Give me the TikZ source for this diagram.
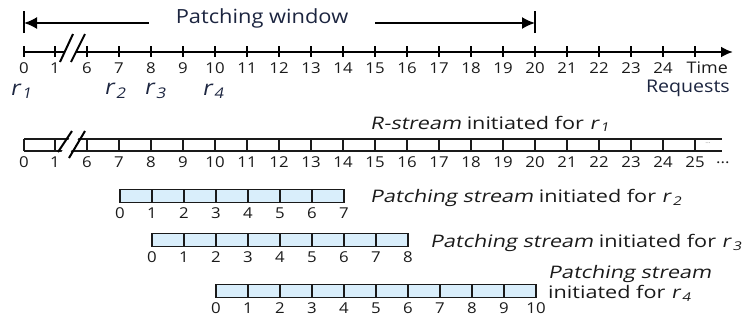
\documentclass[tikz,border=0pt]{standalone}
\usepackage{fontspec}
\setmainfont[FakeStretch=1.12]{Open Sans}
\newfontfamily\slntfont[FakeStretch=1.12,FakeSlant=0.2]{Open Sans}
\newfontfamily\capfont[FakeStretch=1.25]{Open Sans}
\newfontfamily\capslntfont[FakeStretch=1.25,FakeSlant=0.2]{Open Sans}
\newcommand{\capsl}[1]{{\capslntfont #1}}
\newcommand{\req}[1]{r\kern2pt\textsubscript{#1}}
\usetikzlibrary{arrows.meta,positioning,calc}
\definecolor{streamblue}{HTML}{D9EEFB}
\definecolor{textdark}{HTML}{1A1A1A}
\definecolor{labelnavy}{HTML}{1C2540}
\definecolor{linedark}{HTML}{1A1A1A}
\tikzset{
  >=Latex,
  axisline/.style={line width=2.4pt, draw=black},
  axis/.style={axisline, -{Latex[length=12pt,width=11pt]}},
  tickmark/.style={line width=2.2pt, draw=black},
  num/.style={font=\fontsize{15}{17}\selectfont, text=textdark, inner sep=0pt},
  reqlabel/.style={font=\fontsize{21}{23}\selectfont\slntfont, text=labelnavy, inner sep=0pt},
  caption/.style={font=\capfont\fontsize{17.3}{20}\selectfont, text=textdark, inner sep=0pt, align=left},
  cell/.style={rectangle, draw=linedark, line width=1.8pt, minimum width=32pt,
    minimum height=13pt, inner sep=0pt, outer sep=0pt},
  rline/.style={line width=1.8pt, draw=linedark},
  winarrow/.style={line width=1.8pt, -{Latex[length=13pt,width=12pt]}},
  winbar/.style={line width=2.2pt},
  breakmark/.style={line width=2pt, draw=black}
}
% one patching stream: name, left x, centre y, number of cells
\newcommand{\patchbar}[4]{
  \foreach \i in {1,...,#4}{
    \node[cell, fill=streamblue, anchor=west] (#1c\i) at ({#2+32*(\i-1)},#3) {};
  }
  \foreach \i in {0,...,#4}{
    \node[num] (#1n\i) at ({#2+32*\i},{#3+17}) {\i};
  }
}

\begin{document}
\begin{tikzpicture}[x=1pt,y=-1pt]
\useasboundingbox (0,0) rectangle (746,330);

% patching window
\node[font=\fontsize{19.5}{21}\selectfont, text=labelnavy, inner sep=0pt] (win) at (262,18) {Patching window};
\coordinate (wl) at (24,23);
\coordinate (wr) at (535,23);
\draw[winarrow] ([xshift=-27pt]win.west |- wl) -- (wl);
\draw[winarrow] ([xshift=27pt]win.east |- wr) -- (wr);
\draw[winbar] ([yshift=-10pt]wl) -- ([yshift=12pt]wl);
\draw[winbar] ([yshift=-10pt]wr) -- ([yshift=12pt]wr);

% time axis
\coordinate (ax0) at (24,52);
\coordinate (axa) at (65,52);
\coordinate (axb) at (76,52);
\coordinate (ax1) at (733,52);
\draw[axisline] (ax0) -- (axa);
\draw[axis] (axb) -- (ax1);
\foreach \x in {24,55,87,119,...,696}
  \draw[tickmark] (\x,46) -- (\x,57);
\draw[breakmark] (60,62) -- (73,34);
\draw[breakmark] (71,62) -- (85,34);
\foreach \n/\x in {0/24,1/55}
  \node[num] (t\n) at (\x,68) {\n};
\foreach \n in {6,...,24}{
  \pgfmathsetmacro\tx{87+32*(\n-6)}
  \node[num] (t\n) at (\tx,68) {\n};
}
\node[num, font=\fontsize{16}{18}\selectfont, anchor=east] (time) at (728,68) {Time};
\node[num, font=\fontsize{17.5}{19}\selectfont, text=labelnavy, anchor=east] (requests) at (730,88) {Requests};

% requests
\node[reqlabel] (r1) at (21,91) {\req{1}};
\node[reqlabel] (r2) at (115,91) {\req{2}};
\node[reqlabel] (r3) at (155,91) {\req{3}};
\node[reqlabel] (r4) at (213,91) {\req{4}};

% R-stream
\draw[rline] (24,139) -- (722,139) (24,151) -- (722,151);
\foreach \x in {24,55,87,119,...,696}
  \draw[rline] (\x,139) -- (\x,151);
\fill[white] (61,153) -- (74,130) -- (83,130) -- (70,153) -- cycle;
\draw[breakmark] (58,152) -- (72,131);
\draw[breakmark] (69,158) -- (85,131);
\node[font=\fontsize{6}{6}\selectfont, text=gray, inner sep=0pt] (more) at (708,143) {...};
\foreach \n/\x in {0/24,1/55}
  \node[num] (s\n) at (\x,162) {\n};
\foreach \n in {6,...,25}{
  \pgfmathsetmacro\tx{87+32*(\n-6)}
  \node[num] (s\n) at (\tx,162) {\n};
}
\node[num, anchor=west] (sdots) at (716,163) {...};
\node[caption, anchor=west] (cap1) at (370,124)
  {\capsl{R-stream} initiated for \capsl{\req{1}}};

% patching streams
\patchbar{pa}{120}{196}{7}
\node[caption, anchor=west] (cap2) at (370,198)
  {\capsl{Patching stream} initiated for \capsl{\req{2}}};
\patchbar{pb}{152}{240}{8}
\node[caption, anchor=west] (cap3) at (430,243)
  {\capsl{Patching stream} initiated for \capsl{\req{3}}};
\patchbar{pc}{216}{291}{10}
\node[caption, anchor=north west, align=left] (cap4) at (548,265)
  {\capsl{Patching stream}\\initiated for \capsl{\req{4}}};
\end{tikzpicture}
\end{document}
